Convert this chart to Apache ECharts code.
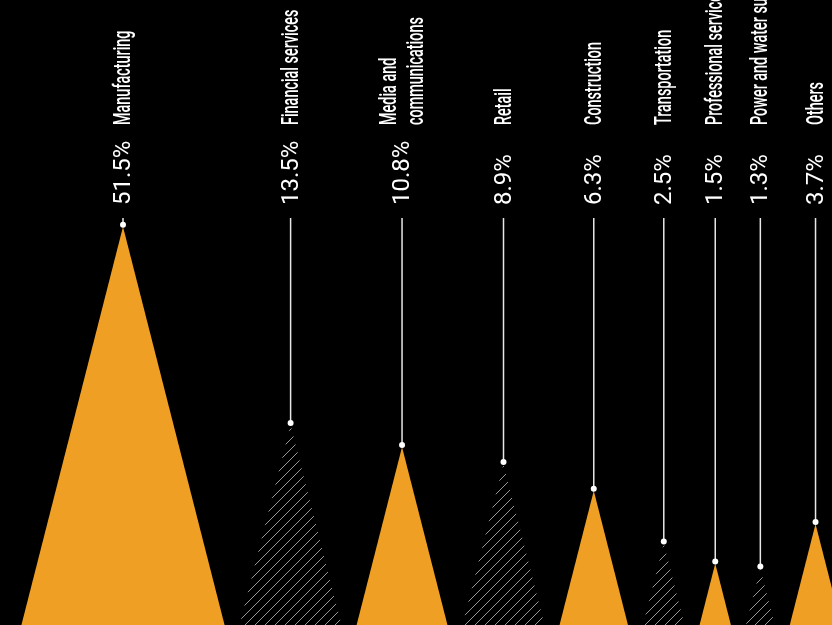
<!DOCTYPE html>
<html>
<head>
<meta charset="utf-8">
<script src="https://cdn.jsdelivr.net/npm/echarts@6/dist/echarts.min.js"></script>
<style>
html,body{margin:0;padding:0;background:#000;}
#main{width:832px;height:625px;}
</style>
</head>
<body>
<div id="main"></div>
<script>
// sectors and their share (%)
var categories = ['Manufacturing','Financial services','Media and\ncommunications','Retail','Construction','Transportation','Professional services','Power and water supply','Others'];
var shares = [51.5,13.5,10.8,8.9,6.3,2.5,1.5,1.3,3.7];
var shareLabels = ['51.5%','13.5%','10.8%','8.9%','6.3%','2.5%','1.5%','1.3%','3.7%'];

var ORANGE = '#EFA024';
var SLOPE = 0.255;   // half width / height of each triangle
var GAP = 15;
var FIRST_X = 123;

// hatch tile
function hatch(){
	var c = document.createElement('canvas');
	c.width = 10; c.height = 10;
	var ctx = c.getContext('2d');
	ctx.strokeStyle = 'rgba(200,200,200,0.75)';
	ctx.lineWidth = 1;
	ctx.beginPath();
	ctx.moveTo(-1,11); ctx.lineTo(11,-1);
	ctx.moveTo(-1,1); ctx.lineTo(1,-1);
	ctx.moveTo(9,11); ctx.lineTo(11,9);
	ctx.stroke();
	return c;
}
var hatchFill = {image: hatch(), repeat: 'repeat'};

// area of triangle ~ share, so height ~ sqrt(share)
function layout(api){
	var baseY = api.coord([0,0])[1];
	var out = [];
	var prevX = 0, prevHw = 0;
	for(var i=0;i<shares.length;i++){
		var top = api.coord([0, Math.sqrt(shares[i])])[1];
		var hw = SLOPE*(625-top);
		var cx = i==0 ? FIRST_X : prevX + prevHw + GAP + hw;
		out.push({cx:cx, top:top, base:baseY});
		prevX = cx; prevHw = hw;
	}
	return out;
}

function renderItem(params, api){
	var i = params.dataIndex;
	var L = layout(api)[i];
	var half = SLOPE*(L.base-L.top);
	var children = [];
	children.push({
		type:'polygon',
		shape:{points:[[L.cx,L.top],[L.cx-half,L.base],[L.cx+half,L.base]]},
		style:{fill: i%2==0 ? ORANGE : hatchFill}
	});
	children.push({
		type:'line',
		shape:{x1:L.cx,y1:218,x2:L.cx,y2:L.top-2},
		style:{stroke:'#e8e8e8',lineWidth:1.5}
	});
	children.push({
		type:'circle',
		shape:{cx:L.cx,cy:L.top-2,r:3},
		style:{fill:'#fff'}
	});
	children.push({
		type:'text',
		x:L.cx+1, y:205, rotation:Math.PI/2,
		style:{text:shareLabels[i],fill:'#fff',fontFamily:'Roboto',fontWeight:'normal',fontSize:24,align:'left',verticalAlign:'middle'}
	});
	children.push({
		type:'text',
		x:L.cx+1, y:125, rotation:Math.PI/2, scaleX:0.6, scaleY:1,
		style:{text:categories[i],fill:'#fff',fontFamily:'Roboto',fontWeight:500,fontSize:24,lineHeight:27,align:'left',verticalAlign:'middle'}
	});
	return {type:'group',children:children};
}

var myChart = echarts.init(document.getElementById('main'));
var option = {
	backgroundColor:'#000',
	animation:false,
	grid:{left:0,right:0,top:0,bottom:0},
	xAxis:{type:'value',min:0,max:1,show:false},
	// axis starts a little above zero so the triangle bases fall just below the picture
	yAxis:{type:'value',min:0.14,max:11.18,show:false},
	series:[{
		type:'custom',
		renderItem:renderItem,
		clip:false,
		data:shares.map(function(v,i){ return [0, v, i]; })
	}]
};
myChart.setOption(option);
</script>
</body>
</html>
